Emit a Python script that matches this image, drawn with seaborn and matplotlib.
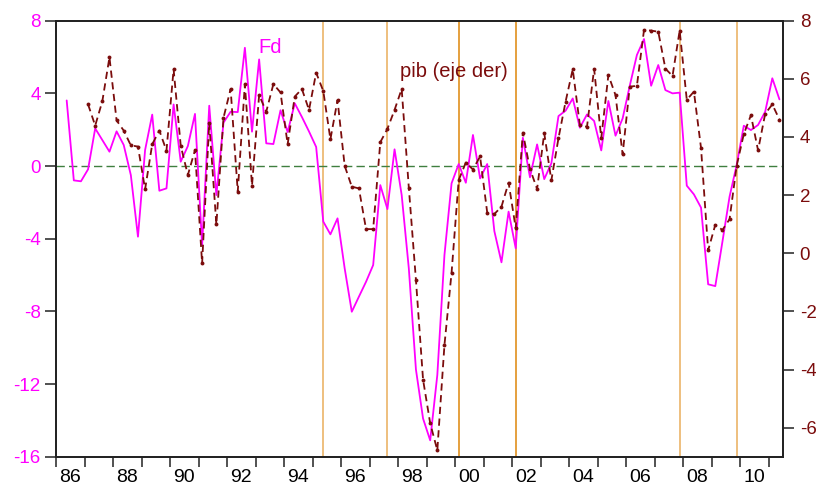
import numpy as np
import pandas as pd
import seaborn as sns
import matplotlib.pyplot as plt

# Fd (eje izq), trimestral desde 1986Q2
fd = [3.61, -0.79, -0.84, -0.18, 2.07, 1.43, 0.79, 1.91, 1.16, -0.5,
      -3.89, 0.88, 2.83, -1.36, -1.23, 3.39, 0.24, 1.1, 2.87, -4.35,
      3.32, -1.6, 2.39, 2.99, 2.97, 6.51, 1.89, 5.87, 1.25, 1.21,
      3.07, 1.87, 3.45, 2.7, 1.9, 1.05, -3.06, -3.76, -2.88, -5.63,
      -8.02, -7.19, -6.37, -5.45, -1.05, -2.37, 0.92, -1.6, -5.63, -11.2,
      -13.9, -15.1, -11.5, -4.9, -0.95, 0.11, -0.92, 1.71, -0.68, 0.11,
      -3.58, -5.3, -2.51, -4.53, 1.56, -0.62, 1.19, -0.72, 0.15, 2.75,
      3.05, 3.72, 2.11, 2.84, 2.48, 0.86, 3.58, 1.67, 2.62, 4.42,
      6.11, 6.99, 4.42, 5.56, 4.18, 4.0, 4.04, -1.08, -1.56, -2.29,
      -6.51, -6.61, -4.17, -1.69, 0.06, 2.22, 1.98, 2.26, 2.99, 4.83,
      3.67]
fd_start = '1986Q2'

# pib (eje der), trimestral desde 1987Q1
pib = [5.12, 4.39, 5.23, 6.74, 4.57, 4.22, 3.71, 3.67, 2.20, 3.75,
       4.22, 3.53, 6.33, 3.70, 2.69, 3.55, -0.35, 4.49, 0.99, 4.66,
       5.65, 2.12, 5.81, 2.33, 5.44, 4.87, 5.82, 5.53, 3.75, 5.39,
       5.65, 4.93, 6.21, 5.58, 3.92, 5.27, 3.01, 2.29, 2.23, 0.83,
       0.83, 3.82, 4.28, 4.93, 5.65, 2.26, -0.92, -4.35, -5.85, -6.78,
       -3.16, -0.67, 2.52, 3.12, 2.88, 3.33, 1.40, 1.35, 1.6, 2.43,
       0.86, 4.15, 2.9, 2.21, 4.13, 2.51, 3.96, 5.22, 6.33, 4.41,
       4.35, 6.34, 3.96, 6.13, 5.44, 3.4, 5.73, 5.76, 7.68, 7.66,
       7.62, 6.35, 6.1, 7.66, 5.28, 5.56, 3.62, 0.1, 0.98, 0.8,
       1.17, 3.01, 4.1, 4.75, 3.54, 4.8, 5.12, 4.6]
pib_start = '1987Q1'

# trimestres marcados con lineas verticales
marcas = ['1995Q2', '1997Q3', '2000Q1', '2002Q1', '2007Q4', '2009Q4']
marcas_color = ['#EBB468', '#EBB468', '#E0901E', '#E0901E', '#EBB468', '#EBB468']


def a_decimal(periodos):
    # centro del trimestre en anios decimales
    return periodos.year + (periodos.quarter - 0.5) / 4


df_fd = pd.DataFrame({'t': a_decimal(pd.period_range(fd_start, periods=len(fd), freq='Q')),
                      'Fd': fd})
df_pib = pd.DataFrame({'t': a_decimal(pd.period_range(pib_start, periods=len(pib), freq='Q')),
                       'pib': pib})

sns.set_style('ticks')
plt.rcParams['font.family'] = ['Liberation Sans', 'DejaVu Sans']
plt.rcParams['axes.unicode_minus'] = False

MAG = '#FF00FF'
ROJO = '#7B0C0C'

fig = plt.figure(figsize=(8.16, 4.91), dpi=100)
ax = fig.add_axes([56 / 816, (491 - 456.7) / 491, (783 - 56) / 816, (456.7 - 20.7) / 491])
ax2 = ax.twinx()

for m, c in zip(marcas, marcas_color):
    p = pd.Period(m, freq='Q')
    ax.axvline(p.year + (p.quarter - 0.5) / 4, color=c, lw=1.2, zorder=1)

ax.axhline(0, color='#3F7F3F', lw=1, ls=(0, (6, 3)), zorder=1)

sns.lineplot(data=df_fd, x='t', y='Fd', ax=ax, color=MAG, lw=1.3, zorder=3)
sns.lineplot(data=df_pib, x='t', y='pib', ax=ax2, color=ROJO, lw=1.3,
             linestyle=(0, (4, 2.5)), marker='o', markersize=2.8,
             markeredgewidth=0, zorder=4)

ax.set_xlim(1986, 2011.5)
ax.set_ylim(-16, 8)
ax2.set_ylim(-7, 8)

ax.set_yticks(np.arange(-16, 9, 4))
ax2.set_yticks(np.arange(-6, 9, 2))
anios = np.arange(1986, 2012)
ax.set_xticks(anios, labels=[''] * len(anios))
pares = np.arange(1986, 2011, 2)
ax.set_xticks(pares + 0.5, labels=[f'{a % 100:02d}' for a in pares], minor=True)

ax.tick_params(axis='x', which='major', direction='out', length=7, width=1.2, color='#333333')
ax.tick_params(axis='x', which='minor', length=0, labelsize=14, pad=9, labelcolor='black')
ax.tick_params(axis='y', direction='out', length=8, width=1.2, color='#333333',
               labelsize=13.5, labelcolor=MAG, pad=3)
ax2.tick_params(axis='y', direction='out', length=8, width=1.2, color='#333333',
                labelsize=13.5, labelcolor=ROJO, pad=4)

ax.set_xlabel('')
ax.set_ylabel('')
ax2.set_ylabel('')
for a in (ax, ax2):
    for s in a.spines.values():
        s.set_color('#222222')
        s.set_linewidth(1.3)
        s.set_visible(True)

ax.text(1993.1, 6.55, 'Fd', color=MAG, fontsize=14.5, va='center', ha='left')
ax.text(1998.05, 5.18, 'pib (eje der)', color=ROJO, fontsize=14.5, va='center', ha='left')

fig.savefig('out.png', dpi=100)
